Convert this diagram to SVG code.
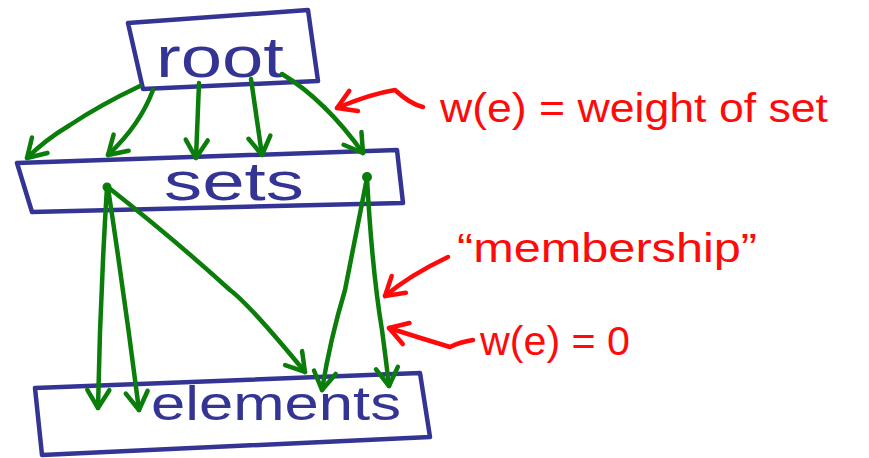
<svg xmlns="http://www.w3.org/2000/svg" width="869" height="458" viewBox="0 0 869 458">
<style>
.box{fill:none;stroke:#343494;stroke-width:4.5;stroke-linejoin:round;stroke-linecap:round}
.lbl{fill:#343494;font-family:"Liberation Sans",Arial,sans-serif}
.edge{fill:none;stroke:#0a7d0a;stroke-width:4.5;stroke-linecap:round;stroke-linejoin:round}
.note{fill:none;stroke:#ff0a0a;stroke-width:4.5;stroke-linecap:round;stroke-linejoin:round}
.ann{fill:#ff0a0a;font-family:"Liberation Sans",Arial,sans-serif;font-size:40px}
.dot{fill:#0a7d0a}
</style>
<defs>
<marker id="ga" viewBox="0 0 24 24" refX="21" refY="12" markerWidth="24" markerHeight="24" markerUnits="userSpaceOnUse" orient="auto" overflow="visible">
<path d="M3,1 L21,12 L3,23" fill="none" stroke="#0a7d0a" stroke-width="4.5" stroke-linecap="round" stroke-linejoin="round"/>
</marker>
<marker id="ra" viewBox="0 0 24 24" refX="21" refY="12" markerWidth="24" markerHeight="24" markerUnits="userSpaceOnUse" orient="auto" overflow="visible">
<path d="M3,1 L21,12 L3,23" fill="none" stroke="#ff0a0a" stroke-width="4.5" stroke-linecap="round" stroke-linejoin="round"/>
</marker>
</defs>

<g id="node-root">
<path class="box" d="M128,23 L308,10 L318,81 L143,89 Z"/>
<text class="lbl" x="220" y="77" font-size="58" text-anchor="middle" textLength="128" lengthAdjust="spacingAndGlyphs">root</text>
</g>
<g id="node-sets">
<path class="box" d="M17,163 L397,150 L403,203 L32,212 Z"/>
<text class="lbl" x="234" y="200" font-size="54" text-anchor="middle" textLength="140" lengthAdjust="spacingAndGlyphs">sets</text>
</g>
<g id="node-elements">
<path class="box" d="M35,388 L420,373 L430,437 L42,455 Z"/>
<text class="lbl" x="276" y="420" font-size="48" text-anchor="middle" textLength="250" lengthAdjust="spacingAndGlyphs">elements</text>
</g>

<g id="connectors">
<path class="edge" marker-end="url(#ga)" d="M140,86 Q100,105 70,125 Q45,140 27,158"/>
<path class="edge" marker-end="url(#ga)" d="M153,90 Q140,125 108,155"/>
<path class="edge" marker-end="url(#ga)" d="M199,83 L196,158"/>
<path class="edge" marker-end="url(#ga)" d="M251,79 L262,155"/>
<path class="edge" marker-end="url(#ga)" d="M282,74 Q325,100 363,153"/>
<circle class="dot" cx="107" cy="187" r="4.5"/>
<circle class="dot" cx="367" cy="177" r="5"/>
<path class="edge" marker-end="url(#ga)" d="M107,187 Q100,300 98,408"/>
<path class="edge" marker-end="url(#ga)" d="M108,188 Q125,300 139,410"/>
<path class="edge" marker-end="url(#ga)" d="M109,188 Q175,240 230,290 Q250,305 305,372"/>
<path class="edge" marker-end="url(#ga)" d="M367,178 Q355,240 345,290 Q330,340 322,390"/>
<path class="edge" marker-end="url(#ga)" d="M367,178 Q372,270 382,330 Q386,360 389,386"/>
</g>

<g id="annotations">
<path class="note" marker-end="url(#ra)" d="M423,107 Q410,104 395,90 Q370,94 337,108"/>
<text class="ann" x="440" y="122" textLength="388" lengthAdjust="spacingAndGlyphs">w(e) = weight of set</text>
<path class="note" marker-end="url(#ra)" d="M448,257 Q410,275 385,296"/>
<text class="ann" x="457" y="262" textLength="300" lengthAdjust="spacingAndGlyphs">“membership”</text>
<path class="note" marker-end="url(#ra)" d="M473,340 Q460,342 450,347 Q420,338 389,328"/>
<text class="ann" x="480" y="355" textLength="150" lengthAdjust="spacingAndGlyphs">w(e) = 0</text>
</g>
</svg>
